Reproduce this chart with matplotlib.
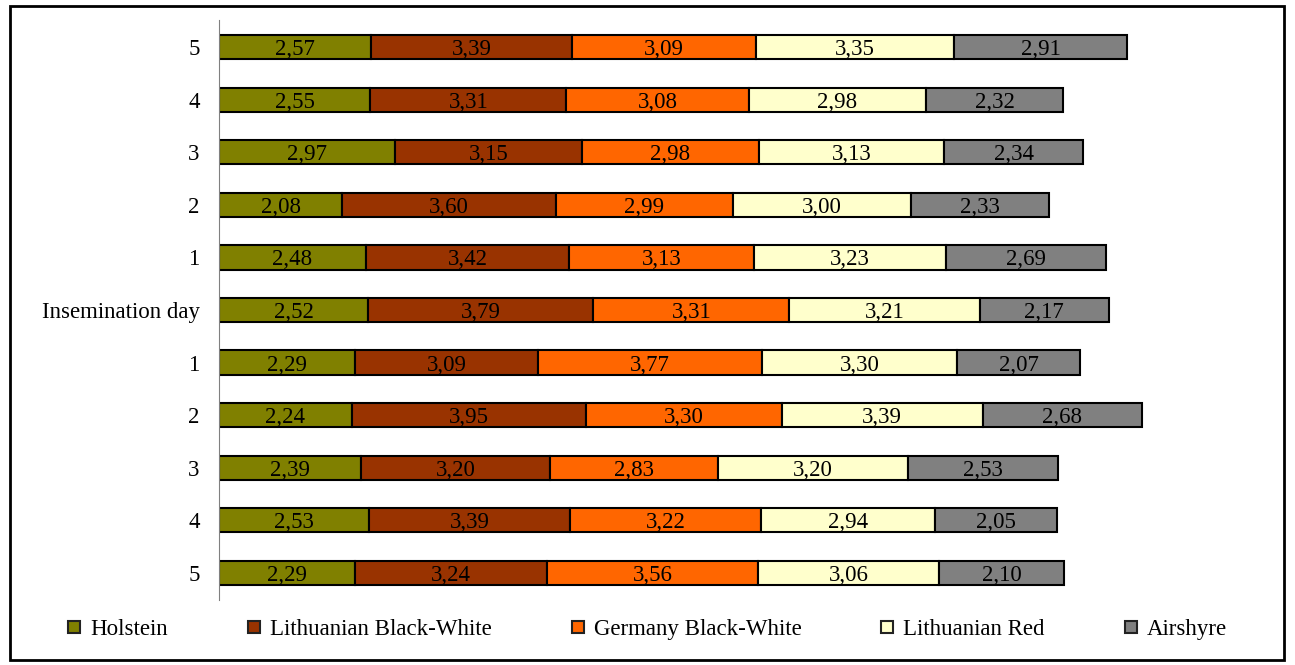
import numpy as np
import matplotlib.pyplot as plt
from matplotlib.patches import Rectangle

plt.rcParams['font.family'] = ['Liberation Serif', 'DejaVu Serif']

days = ["5", "4", "3", "2", "1", "Insemination day", "1", "2", "3", "4", "5"]
breeds = ["Holstein", "Lithuanian Black-White", "Germany Black-White",
          "Lithuanian Red", "Airshyre"]
colors = ["#808000", "#993300", "#FF6600", "#FFFFCC", "#808080"]

holstein = [2.57, 2.55, 2.97, 2.08, 2.48, 2.52, 2.29, 2.24, 2.39, 2.53, 2.29]
lith_bw = [3.39, 3.31, 3.15, 3.60, 3.42, 3.79, 3.09, 3.95, 3.20, 3.39, 3.24]
germ_bw = [3.09, 3.08, 2.98, 2.99, 3.13, 3.31, 3.77, 3.30, 2.83, 3.22, 3.56]
lith_red = [3.35, 2.98, 3.13, 3.00, 3.23, 3.21, 3.30, 3.39, 3.20, 2.94, 3.06]
airshyre = [2.91, 2.32, 2.34, 2.33, 2.69, 2.17, 2.07, 2.68, 2.53, 2.05, 2.10]

series = [holstein, lith_bw, germ_bw, lith_red, airshyre]
fs = 16.5
W, H = 1295, 665

fig = plt.figure(figsize=(W / 100, H / 100), dpi=100)
ax = fig.add_axes([219 / W, 1 - 600 / H, (1285 - 219) / W, 580 / H])

y = np.arange(len(days))[::-1]
left = np.zeros(len(days))
for name, vals, c in zip(breeds, series, colors):
    vals = np.array(vals)
    ax.barh(y, vals, left=left, height=0.46, color=c, edgecolor="black",
            linewidth=1.5, label=name)
    for yi, l, v in zip(y, left, vals):
        ax.text(l + v / 2, yi, f"{v:.2f}".replace(".", ","), ha="center",
                va="center_baseline", fontsize=fs)
    left += vals

ax.set_xlim(0, (1285 - 219) / 59.3)
ax.set_ylim(-0.52, 10.52)
ax.set_yticks(y)
ax.set_yticklabels(days, fontsize=fs)
ax.tick_params(axis="y", length=0, pad=14)
ax.set_xticks([])
for s in ["top", "right", "bottom"]:
    ax.spines[s].set_visible(False)
ax.spines["left"].set_color("#808080")

# legend drawn by hand so all labels share one baseline
renderer = fig.canvas.get_renderer()
box, gap, colsp, ly = 12, 10, 80, 1 - 627 / H
texts = [fig.text(0, ly, b, fontsize=fs, va="center_baseline") for b in breeds]
widths = [t.get_window_extent(renderer).width for t in texts]
total = sum(widths) + len(breeds) * (box + gap) + (len(breeds) - 1) * colsp
x = (W - total) / 2
for t, w, c in zip(texts, widths, colors):
    fig.patches.append(Rectangle((x / W, ly - box / 2 / H), box / W, box / H,
                                 transform=fig.transFigure, facecolor=c,
                                 edgecolor="#222222", linewidth=1.5))
    t.set_x((x + box + gap) / W)
    x += box + gap + w + colsp

fig.patches.append(Rectangle((10 / W, 5 / H), 1274 / W, 654 / H,
                             transform=fig.transFigure, fill=False,
                             edgecolor="black", linewidth=2))

fig.savefig("out.png", dpi=100)
